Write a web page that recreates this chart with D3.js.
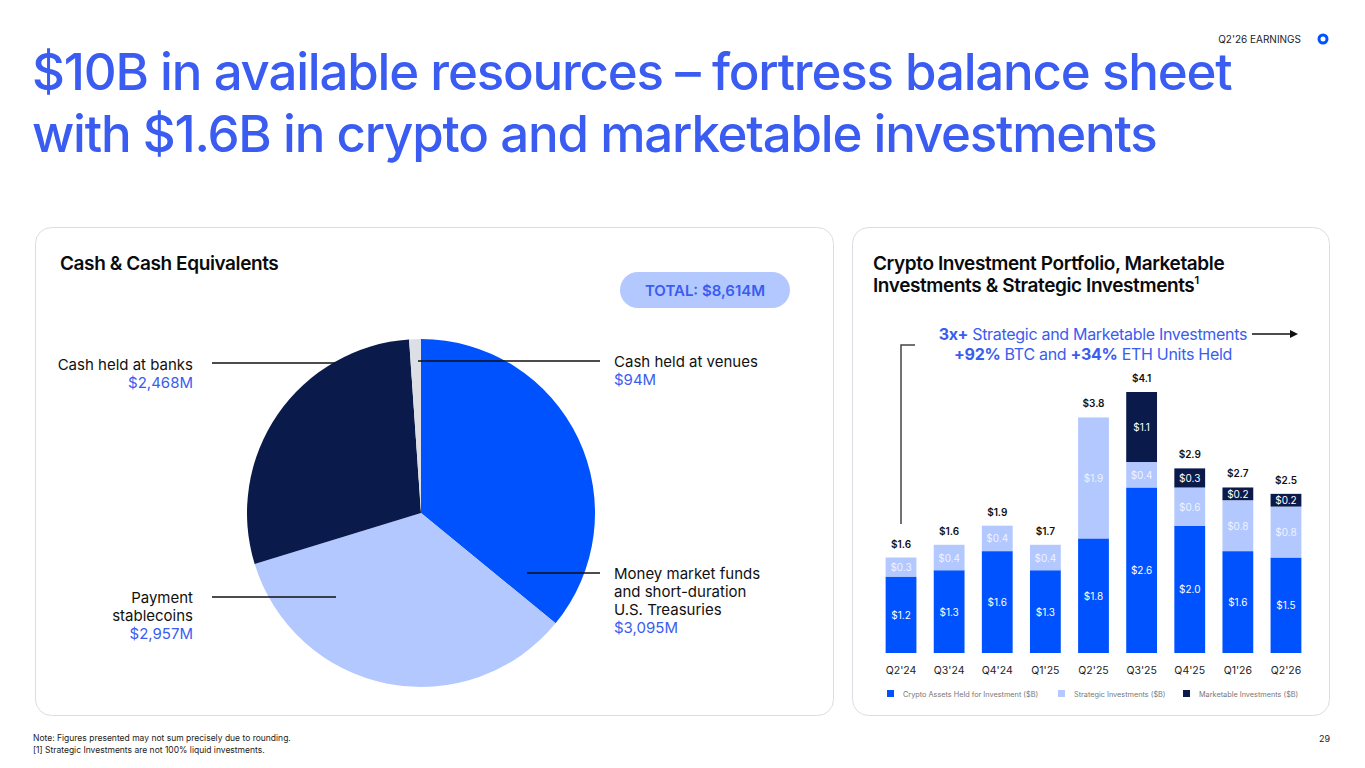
<!DOCTYPE html>
<html><head><meta charset="utf-8">
<script src="https://cdn.jsdelivr.net/npm/d3@7"></script>
<style>
body{margin:0;background:#fff;font-family:Inter,"Noto Sans",sans-serif;}
svg{display:block}
</style></head><body>
<svg id="c" width="1365" height="768"></svg>
<script>
'use strict';
// pie data
var pieLabels = ['Money market funds', 'Payment stablecoins', 'Cash held at banks', 'Cash held at venues'];
var pieValues = [3095, 2957, 2468, 94];
var pieColors = ['#0052FF', '#B3C8FE', '#0A1A4A', '#DCDFE6'];

// bar data
var quarters = ["Q2'24","Q3'24","Q4'24","Q1'25","Q2'25","Q3'25","Q4'25","Q1'26","Q2'26"];
var cryptoAssets = [1.2, 1.3, 1.6, 1.3, 1.8, 2.6, 2.0, 1.6, 1.5];
var strategic = [0.3, 0.4, 0.4, 0.4, 1.9, 0.4, 0.6, 0.8, 0.8];
var marketable = [0, 0, 0, 0, 0, 1.1, 0.3, 0.2, 0.2];
var totals = [1.6, 1.6, 1.9, 1.7, 3.8, 4.1, 2.9, 2.7, 2.5];
var seriesNames = ['Crypto Assets Held for Investment ($B)', 'Strategic Investments ($B)', 'Marketable Investments ($B)'];
var barColors = ['#0052FF', '#B3C8FE', '#0A1A4A'];

var svg = d3.select('#c');
var blue = '#3A5CF0';

// header
svg.append('text').attr('x',1301).attr('y',43).attr('text-anchor','end')
	.attr('font-size',10).attr('fill','#222').text("Q2'26 EARNINGS");
svg.append('circle').attr('cx',1323).attr('cy',39).attr('r',4).attr('fill','none').attr('stroke','#0052FF').attr('stroke-width',3);
var title = svg.append('text').attr('font-size',51).attr('font-weight',500).attr('fill',blue).attr('letter-spacing',-1.2);
title.append('tspan').attr('x',32).attr('y',90).text('$10B in available resources \u2013 fortress balance sheet');
title.append('tspan').attr('x',32).attr('y',152).text('with $1.6B in crypto and marketable investments');

// panels
svg.append('rect').attr('x',35.5).attr('y',227.5).attr('width',798).attr('height',488).attr('rx',16).attr('fill','none').attr('stroke','#dcdde2');
svg.append('rect').attr('x',852.5).attr('y',227.5).attr('width',477).attr('height',488).attr('rx',16).attr('fill','none').attr('stroke','#dcdde2');

// ---- pie ----
svg.append('text').attr('x',60).attr('y',270).attr('font-size',19).attr('font-weight',600).attr('letter-spacing',-0.4).attr('fill','#0a0b0d').text('Cash & Cash Equivalents');
svg.append('rect').attr('x',620).attr('y',272).attr('width',170).attr('height',36).attr('rx',18).attr('fill','#B3C8FE');
svg.append('text').attr('x',705).attr('y',296).attr('text-anchor','middle').attr('font-size',15).attr('font-weight',600).attr('fill',blue).text('TOTAL: $8,614M');

var cx = 421, cy = 513, r = 174;
var pie = d3.pie().sort(null)(pieValues);
var arc = d3.arc().innerRadius(0).outerRadius(r);
svg.append('g').attr('transform','translate('+cx+','+cy+')').selectAll('path').data(pie).enter()
	.append('path').attr('d',arc).attr('fill',function(d,i){return pieColors[i];});

var callouts = [
	{i:3, lines:['Cash held at venues'], val:'$94M', x:614, y:367, lx1:418, lx2:600, ly:361, anchor:'start'},
	{i:0, lines:['Money market funds','and short-duration','U.S. Treasuries'], val:'$3,095M', x:614, y:579, lx1:527, lx2:600, ly:573, anchor:'start'},
	{i:2, lines:['Cash held at banks'], val:'$2,468M', x:193, y:370, lx1:212, lx2:335, ly:363, anchor:'end'},
	{i:1, lines:['Payment','stablecoins'], val:'$2,957M', x:193, y:603, lx1:212, lx2:336, ly:597, anchor:'end'}
];
callouts.forEach(function(c){
	svg.append('line').attr('x1',c.lx1).attr('x2',c.lx2).attr('y1',c.ly).attr('y2',c.ly).attr('stroke','#111').attr('stroke-width',1.3);
	var t = svg.append('text').attr('font-size',15).attr('text-anchor',c.anchor);
	c.lines.forEach(function(l,k){ t.append('tspan').attr('x',c.x).attr('y',c.y+k*18).attr('fill','#111').text(l); });
	t.append('tspan').attr('x',c.x).attr('y',c.y+c.lines.length*18).attr('fill',blue).text(c.val);
});

// ---- bars ----
var st = svg.append('text').attr('font-size',19).attr('font-weight',600).attr('letter-spacing',-0.4).attr('fill','#0a0b0d');
st.append('tspan').attr('x',873).attr('y',270).text('Crypto Investment Portfolio, Marketable');
st.append('tspan').attr('x',873).attr('y',292).text('Investments & Strategic Investments');
st.append('tspan').attr('dy',-8).attr('font-size',11).text('1');

var x = d3.scaleBand().domain(quarters).range([876,1311]).paddingInner(0.36).paddingOuter(0.2);
var y = d3.scaleLinear().domain([0,4.1]).range([653,392]);

var rows = quarters.map(function(q,i){ return {q:q, c:cryptoAssets[i], s:strategic[i], m:marketable[i]}; });
var stack = d3.stack().keys(['c','s','m'])(rows);
var g = svg.append('g');
stack.forEach(function(layer,li){
	g.selectAll(null).data(layer).enter().append('rect')
		.attr('x',function(d){return x(d.data.q);})
		.attr('width',x.bandwidth())
		.attr('y',function(d){return y(d[1]);})
		.attr('height',function(d){return y(d[0])-y(d[1]);})
		.attr('fill',barColors[li]);
	g.selectAll(null).data(layer.filter(function(d){return d[1]-d[0]>0;})).enter().append('text')
		.attr('x',function(d){return x(d.data.q)+x.bandwidth()/2;})
		.attr('y',function(d){return (y(d[0])+y(d[1]))/2+4;})
		.attr('text-anchor','middle').attr('font-size',10)
		.attr('fill', li===1 ? '#eef3ff' : '#fff')
		.text(function(d){return '$'+(d[1]-d[0]).toFixed(1);});
});
g.selectAll(null).data(quarters).enter().append('text')
	.attr('x',function(q){return x(q)+x.bandwidth()/2;})
	.attr('y',function(q,i){return y(d3.sum([cryptoAssets[i],strategic[i],marketable[i]]))-10;})
	.attr('text-anchor','middle').attr('font-size',10).attr('font-weight',600).attr('fill','#111')
	.text(function(q,i){return '$'+totals[i].toFixed(1);});
var xa = svg.append('g').attr('transform','translate(0,653)').call(d3.axisBottom(x).tickSize(0).tickPadding(14));
xa.select('.domain').remove();
xa.selectAll('text').attr('font-size',10.5).attr('fill','#222').attr('font-family','Inter,"Noto Sans",sans-serif');

// legend
var lx = [887, 1058, 1183];
seriesNames.forEach(function(n,i){
	svg.append('rect').attr('x',lx[i]).attr('y',690).attr('width',7).attr('height',7).attr('fill',barColors[i]);
	svg.append('text').attr('x',lx[i]+16).attr('y',697).attr('font-size',7.3).attr('fill','#777').text(n);
});

// annotation
svg.append('path').attr('d','M901,524 V345 H915').attr('fill','none').attr('stroke','#444').attr('stroke-width',1.5);
svg.append('line').attr('x1',1252).attr('x2',1290).attr('y1',334).attr('y2',334).attr('stroke','#111').attr('stroke-width',1.3);
svg.append('path').attr('d','M1298,334 l-8,-4 v8 z').attr('fill','#111');
var an = svg.append('text').attr('text-anchor','middle').attr('font-size',16).attr('fill',blue).attr('letter-spacing',-0.3);
var a1 = an.append('tspan').attr('x',1093).attr('y',340);
a1.append('tspan').attr('font-weight',700).text('3x+');
a1.append('tspan').text(' Strategic and Marketable Investments');
var a2 = an.append('tspan').attr('x',1093).attr('y',360);
a2.append('tspan').attr('font-weight',700).text('+92%');
a2.append('tspan').text(' BTC and ');
a2.append('tspan').attr('font-weight',700).text('+34%');
a2.append('tspan').text(' ETH Units Held');

// footer
svg.append('text').attr('x',33).attr('y',741).attr('font-size',8.5).attr('fill','#222').text('Note: Figures presented may not sum precisely due to rounding.');
svg.append('text').attr('x',33).attr('y',753).attr('font-size',8.5).attr('fill','#222').text('[1] Strategic Investments are not 100% liquid investments.');
svg.append('text').attr('x',1330).attr('y',742).attr('text-anchor','end').attr('font-size',9).attr('fill','#222').text('29');
</script>
</body></html>
